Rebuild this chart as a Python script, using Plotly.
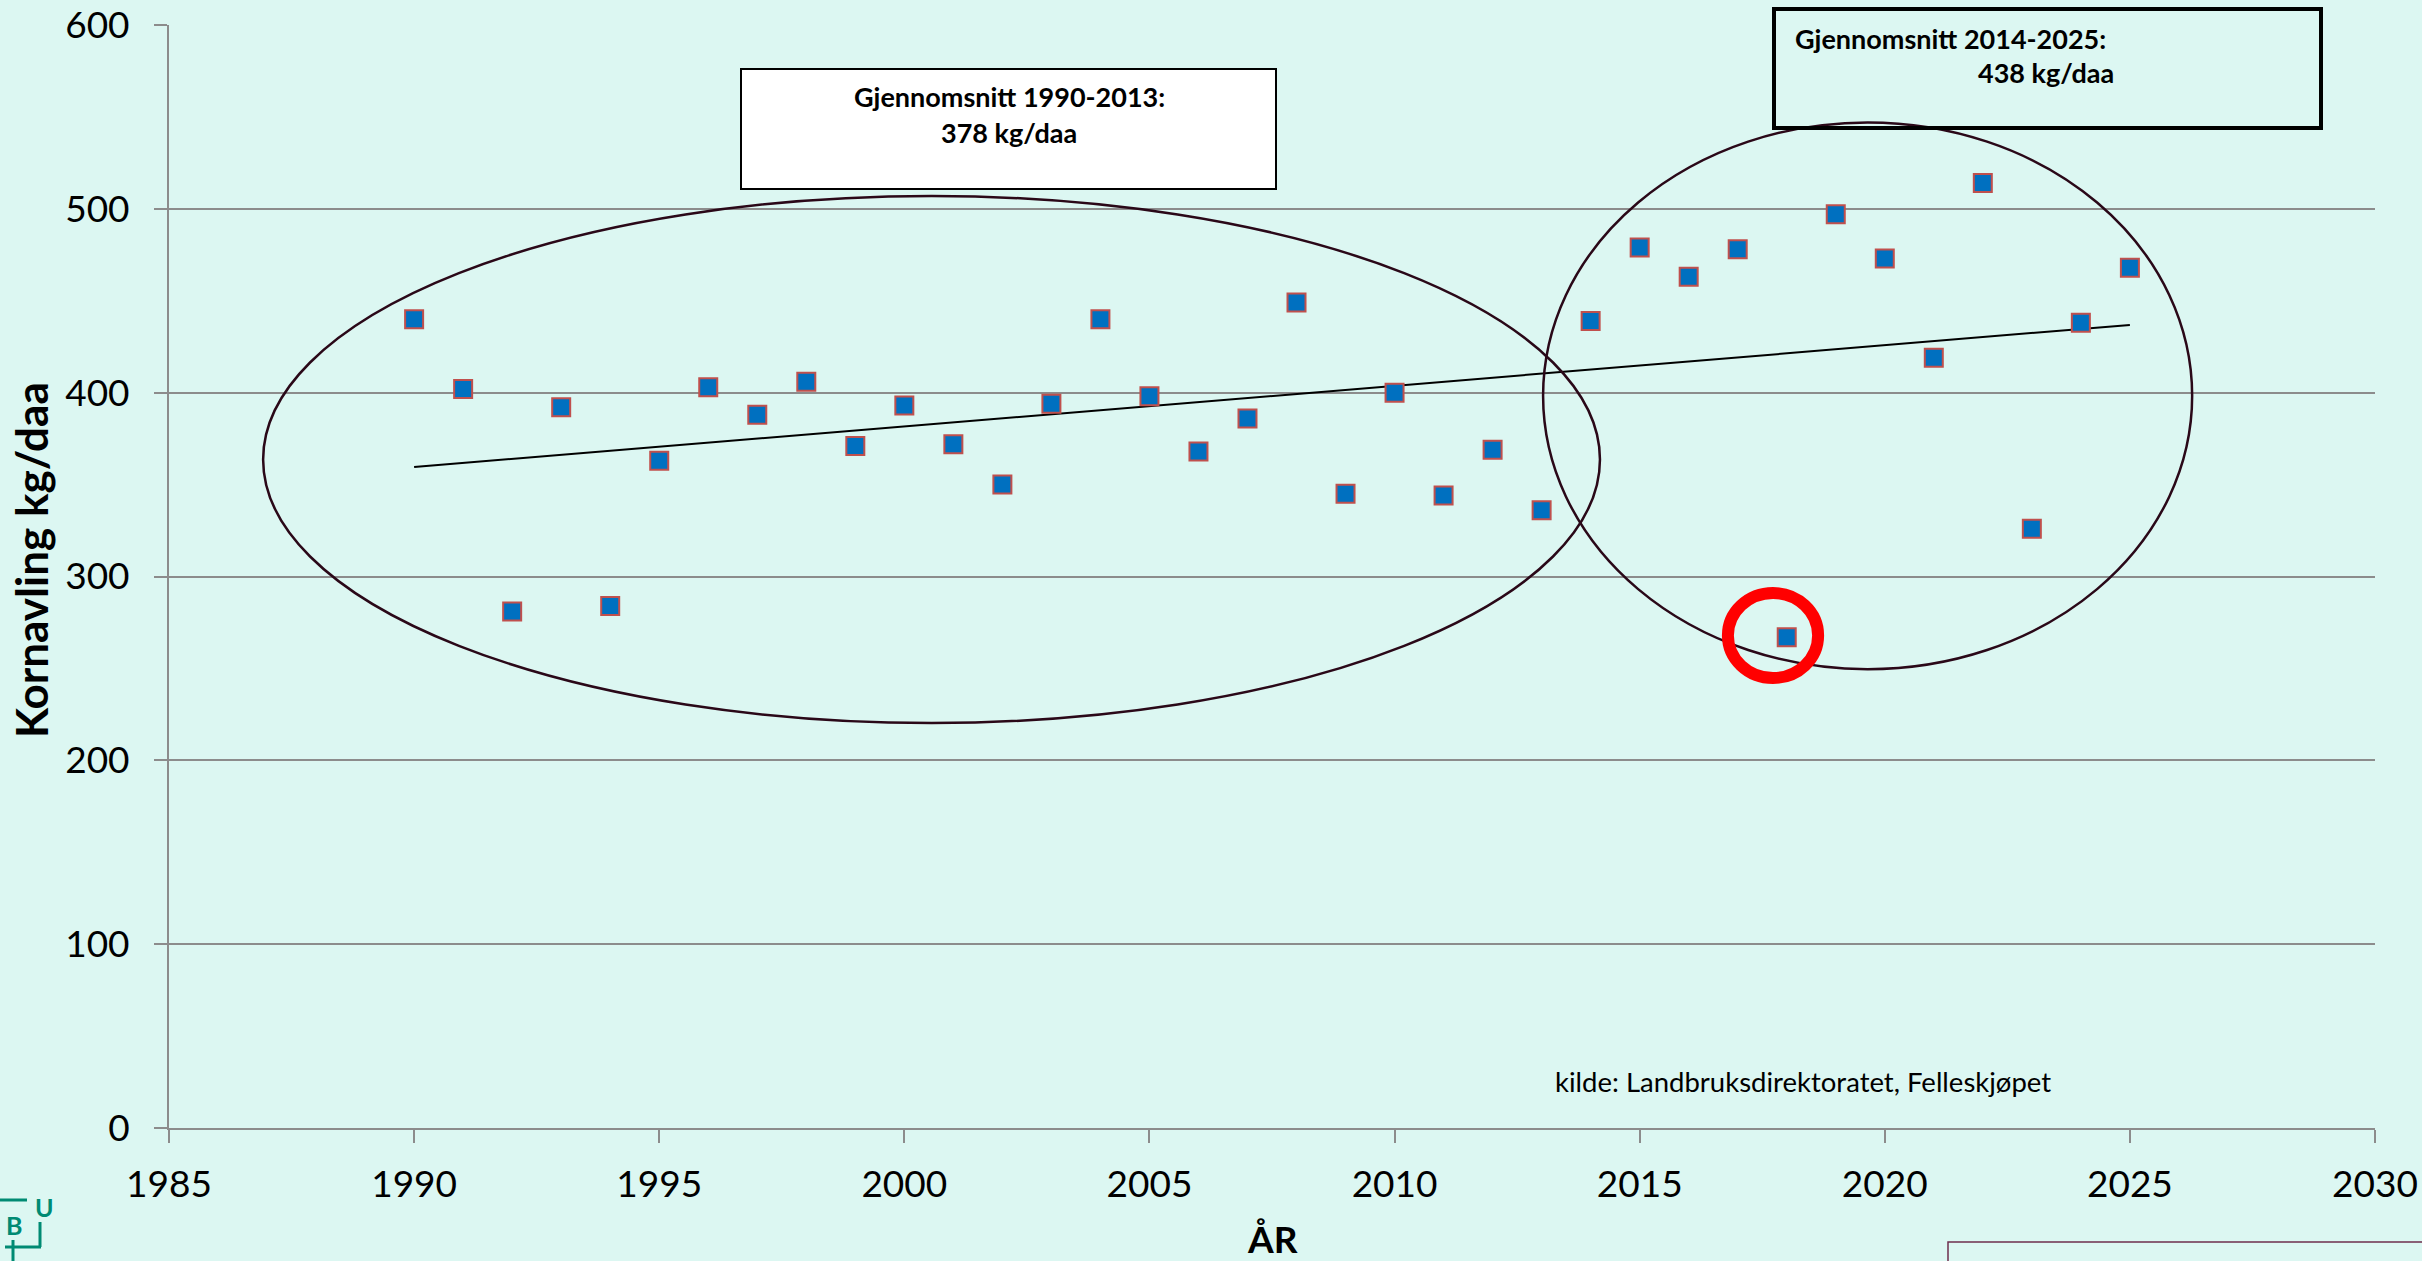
import numpy as np
import plotly.graph_objects as go

# ---- data ----
years = list(range(1990, 2026))
yields = [440, 402, 281, 392, 284, 363, 403, 388, 406, 371, 393, 372,
          350, 394, 440, 398, 368, 386, 449, 345, 400, 344, 369, 336,
          439, 479, 463, 478, 267, 497, 473, 419, 514, 326, 438, 468]
x_ticks = [1985, 1990, 1995, 2000, 2005, 2010, 2015, 2020, 2025, 2030]
y_ticks = [0, 100, 200, 300, 400, 500, 600]
box1_lines = ["Gjennomsnitt 1990-2013:", "378 kg/daa"]
box2_lines = ["Gjennomsnitt 2014-2025:", "438 kg/daa"]
source_text = "kilde: Landbruksdirektoratet, Felleskjøpet"
y_title = "Kornavling kg/daa"
x_title = "ÅR"

# ---- geometry helpers (pixel -> paper) ----
W, H = 2422, 1261
L, R, T, B = 169, 2375, 25, 1128
def px(x):
    return (x - L) / (R - L)
def py(y):
    return (B - y) / (B - T)

FONT = "Lato, 'Open Sans', sans-serif"
BG = "#DCF7F2"
GRID = "#8C8C8C"
LOGO = "#008A73"

# trend line (least squares)
coef = np.polyfit(years, yields, 1)
trend_x = [years[0], years[-1]]
trend_y = list(np.polyval(coef, trend_x))

fig = go.Figure()
fig.add_trace(go.Scatter(x=trend_x, y=trend_y, mode="lines",
                         line=dict(color="black", width=2),
                         showlegend=False, hoverinfo="skip"))
fig.add_trace(go.Scatter(x=years, y=yields, mode="markers",
                         marker=dict(symbol="square", size=18, color="#0070C0",
                                     line=dict(color="#C0504D", width=2)),
                         showlegend=False))

shapes = [
    # ellipses
    dict(type="circle", xref="x", yref="y", x0=1986.92, x1=2014.19, y0=220.3, y1=507,
         line=dict(color="#2A0818", width=2.5)),
    dict(type="circle", xref="x", yref="y", x0=2013.03, x1=2026.27, y0=249.6, y1=547,
         line=dict(color="#2A0818", width=2.5)),
    # red circle
    dict(type="circle", xref="x", yref="y", x0=2016.8, x1=2018.64, y0=244.8, y1=291,
         line=dict(color="#FF0000", width=12)),
    # text boxes
    dict(type="rect", xref="paper", yref="paper", x0=px(741), x1=px(1276), y0=py(189), y1=py(69),
         line=dict(color="black", width=2), fillcolor="white", layer="above"),
    dict(type="rect", xref="paper", yref="paper", x0=px(1774), x1=px(2321), y0=py(128), y1=py(9),
         line=dict(color="black", width=4), fillcolor="rgba(0,0,0,0)", layer="above"),
    # bottom-right box
    dict(type="rect", xref="paper", yref="paper", x0=px(1948), x1=px(2440), y0=py(1280), y1=py(1242),
         line=dict(color="#6E2F4E", width=1.5)),
    # logo lines
    dict(type="line", xref="paper", yref="paper", x0=px(0), x1=px(27), y0=py(1200), y1=py(1200),
         line=dict(color=LOGO, width=3)),
    dict(type="line", xref="paper", yref="paper", x0=px(40), x1=px(40), y0=py(1222), y1=py(1247),
         line=dict(color=LOGO, width=3)),
    dict(type="line", xref="paper", yref="paper", x0=px(5), x1=px(41), y0=py(1247), y1=py(1247),
         line=dict(color=LOGO, width=3)),
    dict(type="line", xref="paper", yref="paper", x0=px(13), x1=px(13), y0=py(1240), y1=py(1265),
         line=dict(color=LOGO, width=3)),
]

def bold(size, color="black"):
    return dict(family=FONT, size=size, color=color, weight="bold")

ann = [
    dict(text=box1_lines[0], x=px(1009), y=py(97), font=bold(27), xanchor="center"),
    dict(text=box1_lines[1], x=px(1009), y=py(133), font=bold(27), xanchor="center"),
    dict(text=box2_lines[0], x=px(1793), y=py(38), font=bold(27), xanchor="left"),
    dict(text=box2_lines[1], x=px(2046), y=py(72), font=bold(27), xanchor="center"),
    dict(text=source_text, x=px(1553), y=py(1081), font=dict(family=FONT, size=27.5, color="black"),
         xanchor="left"),
    dict(text=y_title, x=px(31), y=py(560), textangle=-90, font=bold(44), xanchor="center"),
    dict(text=x_title, x=px(1272), y=py(1238), font=bold(37), xanchor="center"),
    dict(text="U", x=px(44), y=py(1207), font=bold(25, LOGO), xanchor="center"),
    dict(text="B", x=px(14), y=py(1225), font=bold(25, LOGO), xanchor="center"),
]
for a in ann:
    a.update(xref="paper", yref="paper", showarrow=False, yanchor="middle")

fig.update_layout(
    width=W, height=H, autosize=False,
    margin=dict(l=L, r=W - R, t=T, b=H - B, pad=0, autoexpand=False),
    paper_bgcolor=BG, plot_bgcolor=BG,
    font=dict(family=FONT, size=37, color="black"),
    shapes=shapes, annotations=ann,
    showlegend=False,
)
fig.update_xaxes(range=[1985, 2030], tickvals=x_ticks, ticktext=[str(v) for v in x_ticks],
                 showgrid=False, zeroline=False, showline=True, linecolor=GRID, linewidth=2,
                 ticks="outside", ticklen=13, tickwidth=2, tickcolor=GRID, automargin=False,
                 ticklabelstandoff=10,
                 tickfont=dict(family=FONT, size=37, color="black"))
fig.update_yaxes(range=[0, 600], tickvals=y_ticks, ticktext=[str(v) for v in y_ticks],
                 showgrid=True, gridcolor=GRID, gridwidth=2, zeroline=False,
                 showline=True, linecolor=GRID, linewidth=2, automargin=False,
                 ticks="outside", ticklen=13, tickwidth=2, tickcolor=GRID,
                 ticklabelstandoff=17,
                 tickfont=dict(family=FONT, size=37, color="black"))

fig.write_html("out.html", config={"displayModeBar": False},
               post_script="document.body.style.margin='0';document.body.style.overflow='hidden';")
